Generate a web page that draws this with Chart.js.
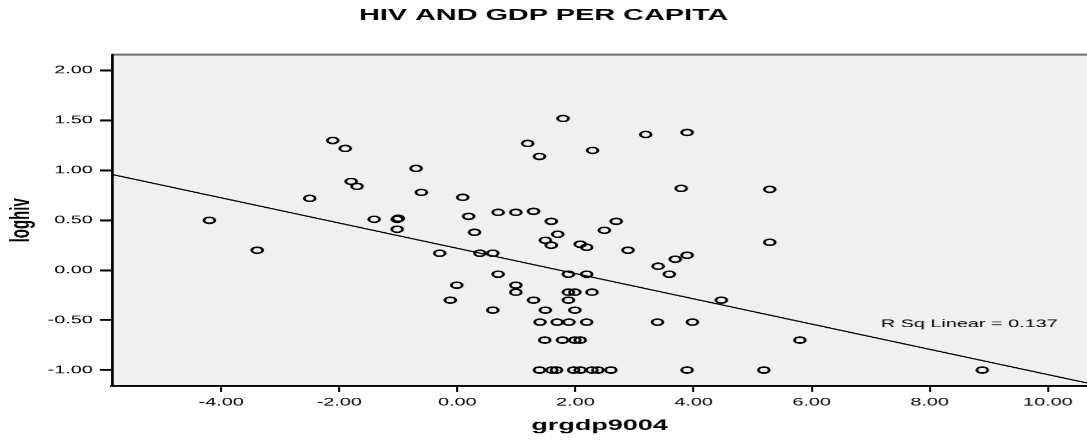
<!DOCTYPE html>
<html>
<head>
<meta charset="utf-8">
<script src="https://cdn.jsdelivr.net/npm/chart.js@4/dist/chart.umd.min.js"></script>
<style>
  html, body { margin: 0; padding: 0; background: #fff; overflow: hidden; }
  /* the original picture is stretched sideways, so draw narrow and widen it */
  #hiv { display: block; transform: scaleX(1.8); transform-origin: 0 0; }
</style>
</head>
<body>
<canvas id="hiv" width="604" height="440"></canvas>
<script>
// Data
const grgdp = [
  -4.20, -3.39, -2.50, -2.11, -1.90, -1.80, -1.70, -1.41, -1.02, -1.00, -1.02,
  -0.70, -0.61, -0.30, 0.09, 0.19, 0.29, 0.38, 0.60, 0.69, 0.99, 1.29,
  1.59, 1.70, 1.49, 1.59, 2.08, 2.19, 2.49, 2.69, 2.89, 1.79, 1.19,
  1.39, 2.29, 3.19, 3.89, 3.79, 3.40, 3.69, 3.89, 3.59, 0.69, 1.88,
  2.19, 5.29, 5.29, -0.01, -0.12, 0.60, 0.99, 0.99, 1.29, 1.88, 1.99,
  2.28, 1.88, 1.49, 1.99, 1.40, 1.69, 1.89, 2.19, 3.39, 3.98, 1.48,
  1.78, 1.99, 2.08, 1.39, 1.60, 1.68, 1.97, 2.08, 2.28, 2.38, 2.60,
  3.89, 4.47, 5.19, 5.80, 8.89,
];
const loghiv = [
  0.50, 0.20, 0.72, 1.30, 1.22, 0.89, 0.84, 0.51, 0.51, 0.52, 0.41,
  1.02, 0.78, 0.17, 0.73, 0.54, 0.38, 0.17, 0.17, 0.58, 0.58, 0.59,
  0.49, 0.36, 0.30, 0.25, 0.26, 0.23, 0.40, 0.49, 0.20, 1.52, 1.27,
  1.14, 1.20, 1.36, 1.38, 0.82, 0.04, 0.11, 0.15, -0.04, -0.04, -0.04,
  -0.04, 0.81, 0.28, -0.15, -0.30, -0.40, -0.15, -0.22, -0.30, -0.22, -0.22,
  -0.22, -0.30, -0.40, -0.40, -0.52, -0.52, -0.52, -0.52, -0.52, -0.52, -0.70,
  -0.70, -0.70, -0.70, -1.00, -1.00, -1.00, -1.00, -1.00, -1.00, -1.00, -1.00,
  -1.00, -0.30, -1.00, -0.70, -1.00,
];

// Fit line ends at the plot edges
const fitX = [-5.85, 10.67];
const fitY = [0.96, -1.13];

const xTicks = [-4, -2, 0, 2, 4, 6, 8, 10];
const yTicks = [-1, -0.5, 0, 0.5, 1, 1.5, 2];

const rsqText = 'R Sq Linear = 0.137';
const rsqAt = { x: 8.67, y: -0.54 };

Chart.defaults.font.family = '"Liberation Sans", Arial, sans-serif';
Chart.defaults.color = '#000';

// Grey plot background, grey top edge and the R Sq label
const plotFrame = {
  id: 'plotFrame',
  beforeDraw(chart) {
    const { ctx, chartArea: a } = chart;
    ctx.save();
    ctx.fillStyle = '#f0f0f0';
    ctx.fillRect(a.left, a.top, a.right - a.left, a.bottom - a.top);
    ctx.strokeStyle = '#707070';
    ctx.lineWidth = 2;
    ctx.beginPath();
    ctx.moveTo(a.left, a.top);
    ctx.lineTo(a.right, a.top);
    ctx.stroke();
    ctx.restore();
  },
  afterDraw(chart) {
    const { ctx, scales } = chart;
    ctx.save();
    ctx.font = '11px "Liberation Sans", Arial, sans-serif';
    ctx.fillStyle = '#000';
    ctx.textAlign = 'center';
    ctx.textBaseline = 'middle';
    ctx.fillText(rsqText, scales.x.getPixelForValue(rsqAt.x), scales.y.getPixelForValue(rsqAt.y));
    ctx.restore();
  },
};

new Chart(document.getElementById('hiv'), {
  type: 'scatter',
  data: {
    datasets: [
      // Circles
      {
        label: 'loghiv',
        data: grgdp.map((x, i) => ({ x, y: loghiv[i] })),
        pointStyle: 'circle',
        pointRadius: 3,
        pointBorderWidth: 1.6,
        pointBorderColor: '#000',
        pointBackgroundColor: 'rgba(0,0,0,0)',
      },
      // Linear fit
      {
        label: 'fit',
        data: fitX.map((x, i) => ({ x, y: fitY[i] })),
        showLine: true,
        borderColor: '#000',
        borderWidth: 1.2,
        pointRadius: 0,
      },
    ],
  },
  options: {
    responsive: false,
    devicePixelRatio: 1.8,
    animation: false,
    layout: { padding: 0, autoPadding: false },
    scales: {
      x: {
        type: 'linear',
        min: -5.85,
        max: 10.67,
        afterBuildTicks: (s) => { s.ticks = xTicks.map((v) => ({ value: v })); },
        afterFit: (s) => {
          s.height = 54;
          s.paddingLeft = 0;
          s.paddingRight = 0;
        },
        ticks: {
          autoSkip: false,
          maxRotation: 0,
          padding: 4,
          font: { size: 11 },
          callback: (v) => Number(v).toFixed(2),
        },
        grid: {
          drawOnChartArea: false,
          tickLength: 6,
          color: '#000',
          lineWidth: 1.1,
        },
        border: { color: '#000', width: 2 },
        title: {
          display: true,
          text: 'grgdp9004',
          font: { size: 15, weight: 'bold' },
          padding: { top: 0, bottom: 5 },
        },
      },
      y: {
        min: -1.16,
        max: 2.16,
        afterBuildTicks: (s) => { s.ticks = yTicks.map((v) => ({ value: v })); },
        afterFit: (s) => {
          s.width = 62.2;
          s.paddingTop = 0;
          s.paddingBottom = 0;
        },
        ticks: {
          padding: 4,
          font: { size: 11 },
          callback: (v) => Number(v).toFixed(2),
        },
        grid: {
          drawOnChartArea: false,
          tickLength: 6.7,
          color: '#000',
          lineWidth: 2,
        },
        border: { color: '#000', width: 1.5 },
        title: {
          display: true,
          text: 'loghiv',
          font: { size: 15, weight: 'bold' },
          padding: { top: 3, bottom: 0 },
        },
      },
    },
    plugins: {
      legend: { display: false },
      tooltip: { enabled: false },
      title: {
        display: true,
        text: 'HIV AND GDP PER CAPITA',
        font: { size: 16, weight: 'bold' },
        color: '#000',
        padding: { top: 6, bottom: 29.4 },
      },
    },
  },
  plugins: [plotFrame],
});
</script>
</body>
</html>
